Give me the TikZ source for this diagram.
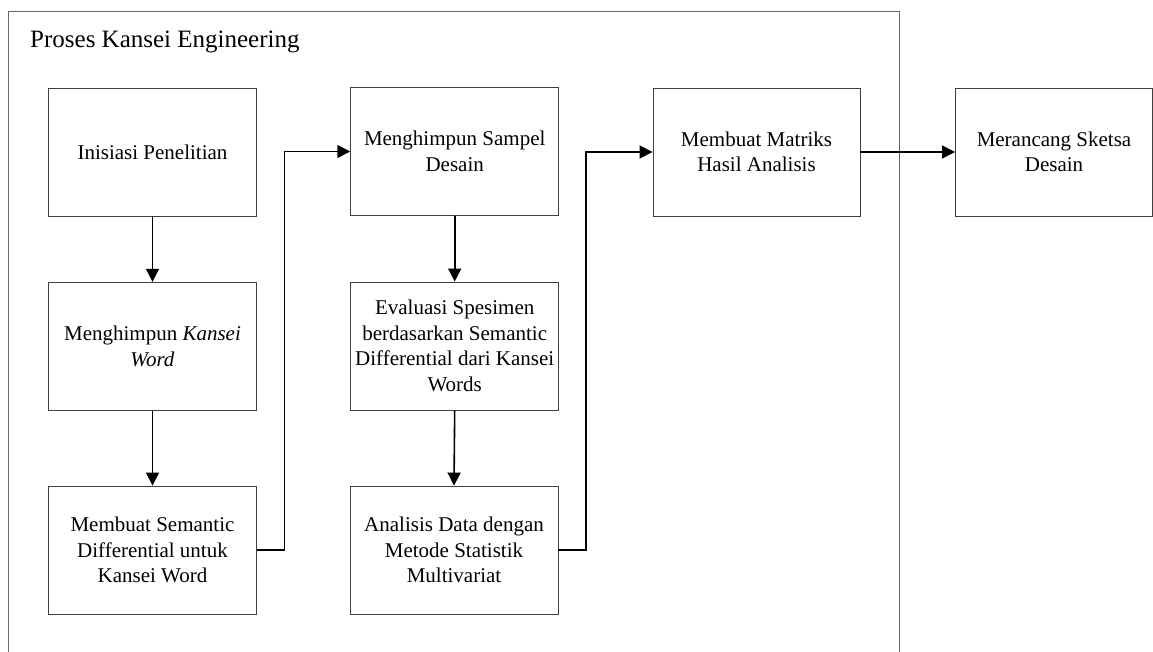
\documentclass[tikz,border=0pt]{standalone}
\usepackage{fontspec}
\setmainfont{Liberation Serif}
\usetikzlibrary{arrows.meta}
\begin{document}
\begin{tikzpicture}[x=1pt,y=-1pt,
  box/.style={draw=black!75, line width=0.9pt, rectangle, minimum width=208pt, minimum height=128pt,
    align=center, font=\fontsize{21}{25.5}\selectfont, inner sep=0pt},
  conn/.style={draw=black, line width=1.6pt, -{Triangle[length=13pt,width=13pt]}},
  framebox/.style={draw=black!60, line width=1pt}]
\useasboundingbox (0,0) rectangle (1153,652);
\draw[framebox] (8.5,660) -- (8.5,12) -- (899,12) -- (899,660);
\node[anchor=base west, font=\fontsize{25}{30}\selectfont, inner sep=0pt] (title) at (30,48) {Proses Kansei Engineering};
\node[box] (b1) at (152.5,152) {Inisiasi Penelitian};
\node[box] (b2) at (152.5,346.3) {Menghimpun \textit{Kansei}\\\textit{Word}};
\node[box] (b3) at (152.5,550) {Membuat Semantic\\Differential untuk\\Kansei Word};
\node[box] (b4) at (454.7,151.5) {Menghimpun Sampel\\Desain};
\node[box] (b5) at (454.7,346) {Evaluasi Spesimen\\berdasarkan Semantic\\Differential dari Kansei\\Words};
\node[box] (b6) at (454,550) {Analisis Data dengan\\Metode Statistik\\Multivariat};
\node[box, minimum width=207pt] (b7) at (756.5,152) {Membuat Matriks\\Hasil Analisis};
\node[box, minimum width=197pt] (b8) at (1054,152) {Merancang Sketsa\\Desain};
\coordinate (j1) at (284.3,550);
\coordinate (j2) at (586,550);
\draw[conn] (b1) -- (b2);
\draw[conn] (b2) -- (b3);
\draw[conn] (b3.east) -- (j1) |- (b4.west);
\draw[conn] (b4) -- (b5);
\draw[conn] (b5.south) -- (b6.north);
\draw[conn] (b6.east) -- (j2) |- (b7.west);
\draw[conn] (b7) -- (b8);
\end{tikzpicture}
\end{document}
